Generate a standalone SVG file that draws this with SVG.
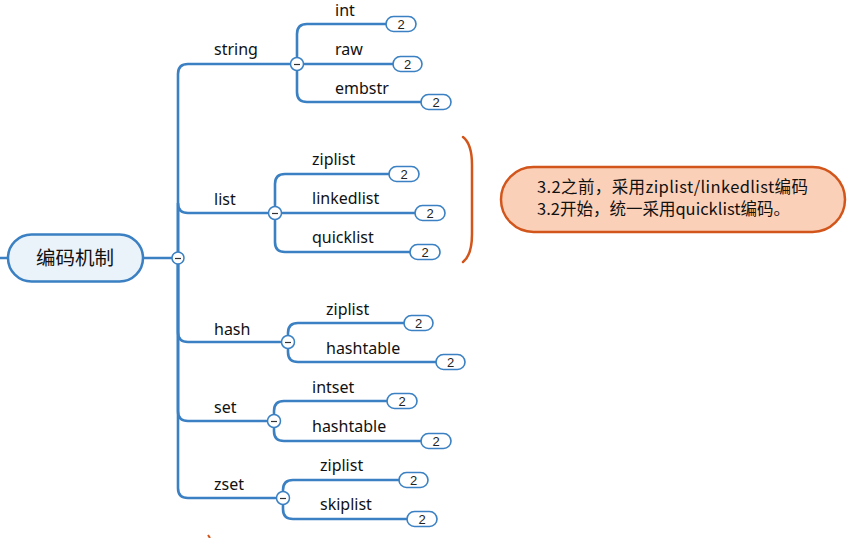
<svg xmlns="http://www.w3.org/2000/svg" width="860" height="538" viewBox="0 0 860 538">
<defs>
<style>
.ln{fill:none;stroke:#3A80C2;stroke-width:2.6;stroke-linecap:round}
.lbl{font-family:"Noto Sans","Open Sans","Liberation Sans",sans-serif;font-size:16px;fill:#111}
.bd rect{fill:#fff;stroke:#3A80C2;stroke-width:1.6}
.bd text{font-family:"Liberation Sans",Arial,sans-serif;font-size:13px;fill:#222;text-anchor:middle}
.tg circle{fill:#fff;stroke:#3A80C2;stroke-width:1.5}
.tg path{stroke:#333;stroke-width:1.2}
</style>
</defs>
<rect width="860" height="538" fill="#fff"/>
<g id="connectors">
<path class="ln" d="M0,258 H8"/>
<path class="ln" d="M143,258 H178"/>
<path class="ln" d="M178,258 V74 Q178,64 188,64 H297"/>
<path class="ln" d="M178,258 V203 Q178,213 188,213 H275"/>
<path class="ln" d="M178,258 V332 Q178,342 188,342 H288"/>
<path class="ln" d="M178,258 V411 Q178,421 188,421 H274"/>
<path class="ln" d="M178,258 V488 Q178,498 188,498 H283"/>
<path class="ln" d="M297,64 V34 Q297,24 307,24 H386"/>
<path class="ln" d="M297,64 H393"/>
<path class="ln" d="M297,64 V92 Q297,102 307,102 H421"/>
<path class="ln" d="M275,213 V184 Q275,174 285,174 H389"/>
<path class="ln" d="M275,213 H415"/>
<path class="ln" d="M275,213 V242 Q275,252 285,252 H410"/>
<path class="ln" d="M288,342 V333 Q288,323 298,323 H404"/>
<path class="ln" d="M288,342 V352 Q288,362 298,362 H436"/>
<path class="ln" d="M274,421 V411 Q274,401 284,401 H387"/>
<path class="ln" d="M274,421 V431 Q274,441 284,441 H421"/>
<path class="ln" d="M283,498 V490 Q283,480 293,480 H399"/>
<path class="ln" d="M283,498 V509 Q283,519 293,519 H407"/>
</g>
<g id="root">
<rect x="8" y="234.5" width="135" height="47" rx="23.5" fill="#EAF2FA" stroke="#3A80C2" stroke-width="2.5"/>
<text x="75" y="265" font-family="Noto Sans CJK SC,sans-serif" font-size="19.5" text-anchor="middle" fill="#111">编码机制</text>
</g>
<g class="tg"><circle cx="178" cy="258" r="6"/><path d="M175,258.5 H181"/></g>
<g id="string"><text class="lbl" x="214" y="55">string</text><g class="tg"><circle cx="297" cy="64" r="6.5"/><path d="M294,64.5 H300"/></g></g>
<g id="list"><text class="lbl" x="214" y="205">list</text><g class="tg"><circle cx="275" cy="213" r="6.5"/><path d="M272,213.5 H278"/></g></g>
<g id="hash"><text class="lbl" x="214" y="335">hash</text><g class="tg"><circle cx="288" cy="342" r="6.5"/><path d="M285,342.5 H291"/></g></g>
<g id="set"><text class="lbl" x="214" y="413">set</text><g class="tg"><circle cx="274" cy="421" r="6.5"/><path d="M271,421.5 H277"/></g></g>
<g id="zset"><text class="lbl" x="214" y="490">zset</text><g class="tg"><circle cx="283" cy="498" r="6.5"/><path d="M280,498.5 H286"/></g></g>
<g id="string-int"><text class="lbl" x="335" y="16">int</text><g class="bd"><rect x="386" y="16.5" width="30" height="15" rx="7.5"/><text x="401" y="29">2</text></g></g>
<g id="string-raw"><text class="lbl" x="335" y="55">raw</text><g class="bd"><rect x="393" y="56.5" width="29" height="15" rx="7.5"/><text x="407.5" y="69">2</text></g></g>
<g id="string-embstr"><text class="lbl" x="335" y="94">embstr</text><g class="bd"><rect x="421" y="94.5" width="30" height="15" rx="7.5"/><text x="436" y="107">2</text></g></g>
<g id="list-ziplist"><text class="lbl" x="312" y="165">ziplist</text><g class="bd"><rect x="389" y="166.5" width="30" height="15" rx="7.5"/><text x="404" y="179">2</text></g></g>
<g id="list-linkedlist"><text class="lbl" x="312" y="204">linkedlist</text><g class="bd"><rect x="415" y="205.5" width="30" height="15" rx="7.5"/><text x="430" y="218">2</text></g></g>
<g id="list-quicklist"><text class="lbl" x="312" y="243">quicklist</text><g class="bd"><rect x="410" y="244.5" width="30" height="15" rx="7.5"/><text x="425" y="257">2</text></g></g>
<g id="hash-ziplist"><text class="lbl" x="326" y="315">ziplist</text><g class="bd"><rect x="404" y="315.5" width="29" height="15" rx="7.5"/><text x="418.5" y="328">2</text></g></g>
<g id="hash-hashtable"><text class="lbl" x="326" y="354">hashtable</text><g class="bd"><rect x="436" y="354.5" width="29" height="15" rx="7.5"/><text x="450.5" y="367">2</text></g></g>
<g id="set-intset"><text class="lbl" x="312" y="393">intset</text><g class="bd"><rect x="387" y="393.5" width="30" height="15" rx="7.5"/><text x="402" y="406">2</text></g></g>
<g id="set-hashtable"><text class="lbl" x="312" y="432">hashtable</text><g class="bd"><rect x="421" y="433.5" width="30" height="15" rx="7.5"/><text x="436" y="446">2</text></g></g>
<g id="zset-ziplist"><text class="lbl" x="320" y="471">ziplist</text><g class="bd"><rect x="399" y="472.5" width="29" height="15" rx="7.5"/><text x="413.5" y="485">2</text></g></g>
<g id="zset-skiplist"><text class="lbl" x="320" y="510">skiplist</text><g class="bd"><rect x="407" y="511.5" width="30" height="15" rx="7.5"/><text x="422" y="524">2</text></g></g>
<g id="bracket"><path d="M463,137 Q472,144 472,165 V234 Q472,255 463,262" fill="none" stroke="#D2561B" stroke-width="2.5" stroke-linecap="round"/></g>
<g id="note">
<rect x="501" y="167" width="344" height="65" rx="32.5" fill="#FBD0B9" stroke="#D2561B" stroke-width="2.5"/>
<text font-family="Noto Sans CJK SC,sans-serif" font-size="16.5" fill="#111"><tspan x="537" y="193" textLength="271" lengthAdjust="spacing">3.2之前，采用ziplist/linkedlist编码</tspan><tspan x="537" y="215" textLength="253" lengthAdjust="spacing">3.2开始，统一采用quicklist编码。</tspan></text>
</g>
<path d="M208,535 L210,538" stroke="#D2561B" stroke-width="2"/>
</svg>
